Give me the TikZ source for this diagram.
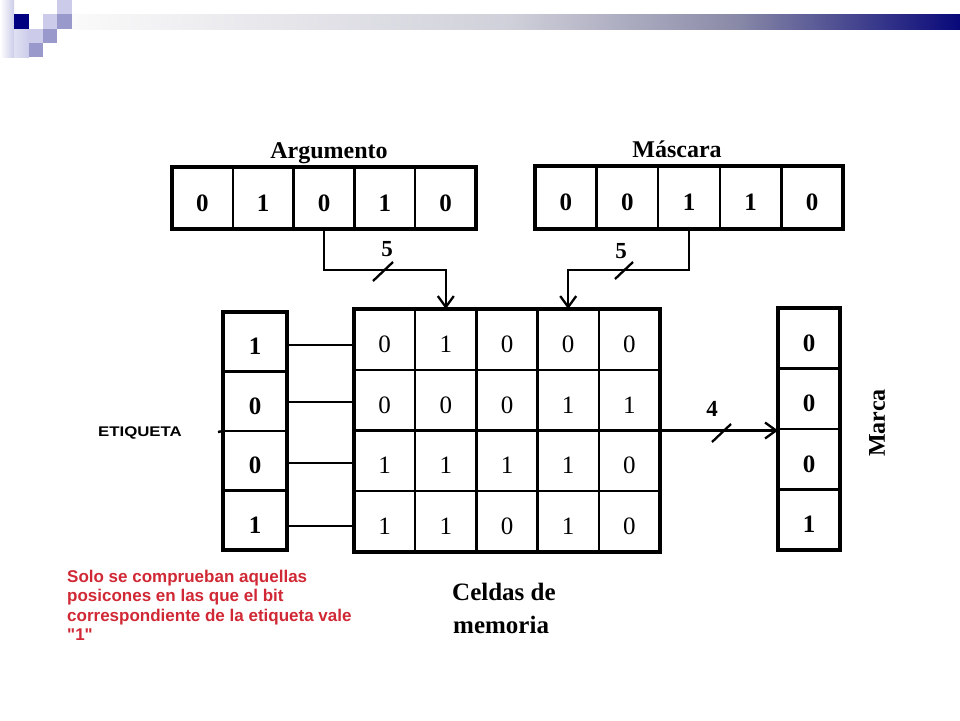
\documentclass[tikz,border=0pt]{standalone}
\usepackage{fontspec}
\usepackage{graphicx}
\setmainfont{Liberation Serif}
\newfontfamily\arialf{Liberation Sans}
\usetikzlibrary{arrows.meta,calc}
\definecolor{navyb}{RGB}{0,0,128}
\definecolor{sqlight}{RGB}{204,204,234}
\definecolor{sqmid}{RGB}{153,153,204}
\definecolor{ban1}{RGB}{250,250,250}
\definecolor{ban2}{RGB}{208,208,218}
\definecolor{ban3}{RGB}{138,138,168}
\definecolor{ban4}{RGB}{8,8,122}
\definecolor{redtxt}{RGB}{208,40,52}
\begin{document}
\begin{tikzpicture}[x=1pt,y=-1pt,
  cellbase/.style={draw, line width=2.4pt, inner sep=0pt, outer sep=0pt,
    text height=26pt, text depth=0pt},
  regcell/.style={cellbase, font=\fontsize{25}{25}\selectfont\bfseries},
  gridcell/.style={cellbase, font=\fontsize{25}{25}\selectfont},
  argc/.style={regcell, minimum width=60.8pt, minimum height=62pt},
  masc/.style={regcell, minimum width=61.6pt, minimum height=63pt},
  gridc/.style={gridcell, minimum width=61.2pt, minimum height=60.75pt},
  etc/.style={regcell, minimum width=64pt, minimum height=59.5pt},
  mkc/.style={regcell, minimum width=62pt, minimum height=60.5pt},
  outerbox/.style={draw, line width=3.6pt},
  wire/.style={draw, line width=2.3pt},
  conn/.style={wire, -{Straight Barb[length=11pt,width=16pt,line width=2.3pt]}},
  title/.style={font=\fontsize{24}{24}\selectfont\bfseries, inner sep=0pt},
  busnum/.style={font=\fontsize{23}{23}\selectfont\bfseries, inner sep=0pt}
]
\useasboundingbox (0,0) rectangle (960,720);

% --- slide decoration ---
\shade[left color=white, right color=sqlight] (0,0) rectangle (14,57);
\shade[left color=sqlight!60, right color=sqlight] (14,29) rectangle (29,57);
\fill[sqlight] (57,0) rectangle (72,14);
\fill[navyb] (14,14) rectangle (29,29);
\fill[sqlight] (43,14) rectangle (57,29);
\fill[sqmid] (57,14) rectangle (72,29);
\fill[sqlight] (29,29) rectangle (43,43);
\fill[sqmid] (43,29) rectangle (57,43);
\fill[sqmid] (29,43) rectangle (43,57);
\shade[left color=ban1, right color=ban2] (72,14) rectangle (510.5,29);
\shade[left color=ban2, right color=ban3] (510,14) rectangle (735.5,29);
\shade[left color=ban3, right color=ban4] (735,14) rectangle (960,29);

% --- Argumento register ---
\foreach \v [count=\i] in {0,1,0,1,0}
  \node[argc] (a\i) at ({202.4+60.8*(\i-1)},198) {\v};
\draw[outerbox] (a1.north west) rectangle (a5.south east);
\node[title, anchor=base] (argl) at (329,158) {Argumento};

% --- Mascara register ---
\foreach \v [count=\i] in {0,0,1,1,0}
  \node[masc] (s\i) at ({565.8+61.6*(\i-1)},197.5) {\v};
\draw[outerbox] (s1.north west) rectangle (s5.south east);
\node[title, anchor=base] (masl) at (677,157) {Máscara};

% --- memory cells ---
\foreach \row [count=\r] in {{0,1,0,0,0},{0,0,0,1,1},{1,1,1,1,0},{1,1,0,1,0}}
  \foreach \v [count=\c] in \row
    \node[gridc] (m\r\c) at ({384.6+61.2*(\c-1)},{339.375+60.75*(\r-1)}) {\v};
\draw[outerbox] (m11.north west) rectangle (m45.south east);

% --- Etiqueta register ---
\foreach \v [count=\i] in {1,0,0,1}
  \node[etc] (e\i) at (255,{341.75+59.5*(\i-1)}) {\v};
\draw[outerbox] (e1.north west) rectangle (e4.south east);

% --- Marca register ---
\foreach \v [count=\i] in {0,0,0,1}
  \node[mkc] (k\i) at (809,{338.25+60.5*(\i-1)}) {\v};
\draw[outerbox] (k1.north west) rectangle (k4.south east);
\node[title, rotate=90] (mkl) at (877,423) {Marca};

% --- connectors ---
\draw[conn] (a3.south) -- ++(0,41) -| (m12.north);
\draw[conn] (s3.south) -- ++(0,41) -| (m14.north);
\draw[conn] (m25.south east) -- (m25.south east -| k2.west);
\draw[wire] ([yshift=-3pt]e1.east) -- ([yshift=-3pt]e1.east -| m11.west);
\draw[wire] ([yshift=-1pt]e2.east) -- ([yshift=-1pt]e2.east -| m21.west);
\draw[wire] ([yshift=-2pt]e3.east) -- ([yshift=-2pt]e3.east -| m31.west);
\draw[wire] ([yshift=-6pt]e4.east) -- ([yshift=-6pt]e4.east -| m41.west);

% bus width marks
\draw[wire] (373,281) -- (393,262);
\draw[wire] (615,279) -- (633,262);
\draw[wire] (712,442) -- (731,424);
\node[busnum] (n5a) at (387,249) {5};
\node[busnum] (n5b) at (621,251) {5};
\node[busnum] (n4) at (712,409) {4};

% --- ETIQUETA label ---
\coordinate (tick) at (218,432);
\draw[line width=2.4pt] (tick) -- (e2.south west);
\node[font=\arialf\bfseries\fontsize{14}{14}\selectfont, inner sep=0pt] (etl) at (140,433) {\scalebox{1.2}[1]{ETIQUETA}};

% --- Celdas de memoria ---
\node[font=\fontsize{25}{25}\selectfont\bfseries, anchor=base west, inner sep=0pt] (cel1) at (452,600) {Celdas de};
\node[font=\fontsize{25}{25}\selectfont\bfseries, anchor=base west, inner sep=0pt] (cel2) at (453,633) {memoria};

% --- red note ---
\node[font=\arialf\bfseries\fontsize{17}{19.5}\selectfont, text=redtxt, align=left, anchor=north west, inner sep=0pt] (note) at (67,569.5)
  {Solo se comprueban aquellas\\posicones en las que el bit\\correspondiente de la etiqueta vale\\"1"};
\end{tikzpicture}
\end{document}
